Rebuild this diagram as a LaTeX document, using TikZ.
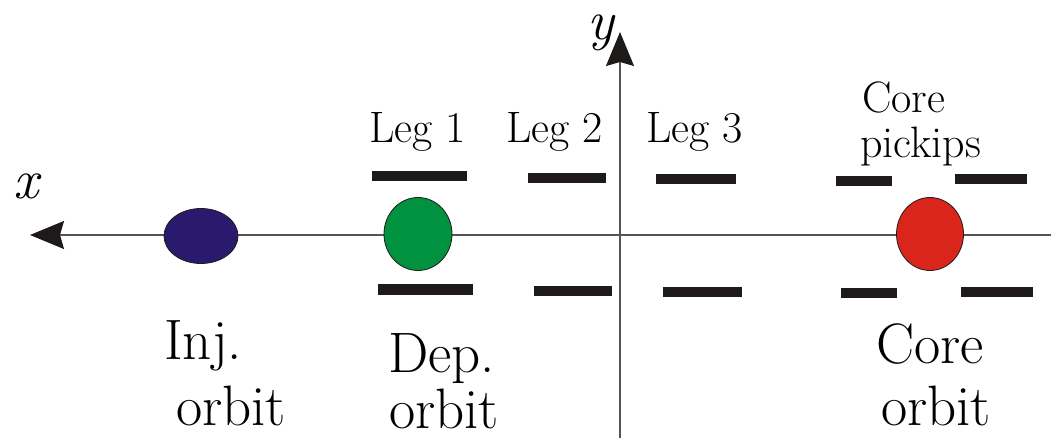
\documentclass[tikz,border=0pt]{standalone}
\usepackage{xcolor}
\usetikzlibrary{arrows.meta,shapes.geometric}

\definecolor{injblue}{RGB}{42,26,110}
\definecolor{depgreen}{RGB}{0,146,63}
\definecolor{corered}{RGB}{218,37,29}
\definecolor{barblack}{RGB}{30,26,26}
\definecolor{axisgray}{RGB}{85,85,85}

\tikzset{
  axisline/.style={axisgray, line width=1.4pt,
    -{Stealth[length=34pt, width=28pt, inset=4pt, color=barblack]}},
  beam/.style={draw=barblack, line width=0.8pt, ellipse, inner sep=0pt},
  pickup/.style={fill=barblack},
  leglabel/.style={anchor=base west, inner sep=0pt, font=\fontsize{44}{52}\selectfont},
  orbitlabel/.style={anchor=base west, inner sep=0pt, font=\fontsize{57}{66}\selectfont},
  axislabel/.style={anchor=base west, inner sep=0pt, font=\fontsize{56}{64}\selectfont\itshape}
}

\begin{document}
\begin{tikzpicture}[x=1pt, y=-1pt]
            \useasboundingbox (0,0) rectangle (1051,438);
            % Axes
            \coordinate (xstart) at (1051,235);
            \coordinate (xtip) at (30,235);
            \coordinate (ystart) at (620,438);
            \coordinate (ytip) at (620,32);
            \draw[axisline] (xstart) -- (xtip);
            \draw[axisline] (ystart) -- (ytip);
            \node[axislabel] (xlab) at (13,199) {x};
            \node[axislabel] (ylab) at (587,40) {y};
            % Pickup electrodes
            \fill[pickup] (372,171) rectangle (467,181);
            \fill[pickup] (378,284) rectangle (473,295);
            \fill[pickup] (528,173) rectangle (606,183);
            \fill[pickup] (534,286) rectangle (612,296);
            \fill[pickup] (656,174) rectangle (736,184);
            \fill[pickup] (663,287) rectangle (742,297);
            \fill[pickup] (836,176) rectangle (892,186);
            \fill[pickup] (955,174) rectangle (1027,184);
            \fill[pickup] (841,288) rectangle (897,298);
            \fill[pickup] (961,287) rectangle (1033,297);
            % Beams
            \node[beam, fill=injblue, minimum width=74pt, minimum height=55pt] (inj) at (201,236) {};
            \node[beam, fill=depgreen, minimum width=68pt, minimum height=73pt] (dep) at (418,234) {};
            \node[beam, fill=corered, minimum width=67pt, minimum height=73pt] (core) at (930,234) {};
            % Labels
            \node[leglabel] (leg1) at (369,143) {Leg 1};
            \node[leglabel] (leg2) at (506,143) {Leg 2};
            \node[leglabel] (leg3) at (646,143) {Leg 3};
            \node[leglabel] (corepk1) at (862,113) {Core};
            \node[leglabel] (corepk2) at (860,158) {pickips};
            \node[orbitlabel] (injlab1) at (164,359) {Inj.};
            \node[orbitlabel] (injlab2) at (176,425) {orbit};
            \node[orbitlabel] (deplab1) at (388,372) {Dep.};
            \node[orbitlabel] (deplab2) at (389,428) {orbit};
            \node[orbitlabel] (corelab1) at (876,363) {Core};
            \node[orbitlabel] (corelab2) at (881,425) {orbit};
        \end{tikzpicture}
\end{document}
